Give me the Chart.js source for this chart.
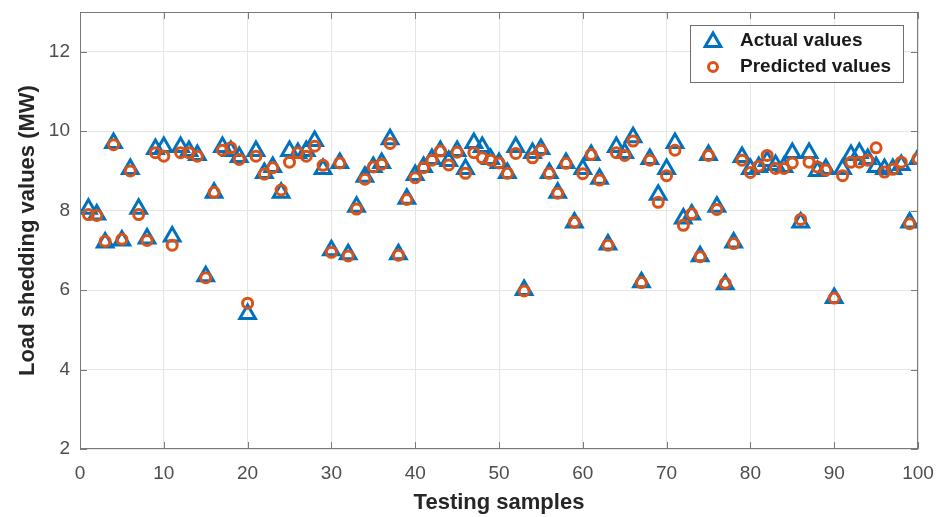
<!DOCTYPE html>
<html>
<head>
<meta charset="utf-8">
<script src="https://cdn.jsdelivr.net/npm/chart.js@4/dist/chart.umd.min.js"></script>
<style>
  body { margin: 0; background: #fff; }
  #wrap { width: 938px; height: 517px; }
</style>
</head>
<body>
<div id="wrap"><canvas id="chart" width="938" height="517"></canvas></div>
<script>
// values, sample 1..100
const actualValues = [
  8.05, 7.9, 7.2, 9.7, 7.25, 9.05, 8.05, 7.3, 9.55, 9.6,
  7.35, 9.6, 9.5, 9.4, 6.35, 8.45, 9.6, 9.5, 9.35, 5.4,
  9.5, 8.95, 9.1, 8.45, 9.5, 9.45, 9.5, 9.75, 9.05, 7.0,
  9.2, 6.9, 8.1, 8.85, 9.1, 9.2, 9.8, 6.9, 8.3, 8.9,
  9.1, 9.3, 9.5, 9.25, 9.5, 9.05, 9.7, 9.6, 9.3, 9.2,
  8.95, 9.6, 6.0, 9.45, 9.55, 8.95, 8.45, 9.2, 7.7, 9.05,
  9.4, 8.8, 7.15, 9.6, 9.45, 9.85, 6.2, 9.3, 8.4, 9.05,
  9.7, 7.8, 7.9, 6.85, 9.4, 8.1, 6.15, 7.2, 9.35, 9.05,
  9.1, 9.25, 9.15, 9.1, 9.45, 7.7, 9.45, 9.0, 9.05, 5.8,
  9.05, 9.4, 9.45, 9.3, 9.1, 9.05, 9.05, 9.15, 7.7, 9.3
]
const predictedValues = [
  7.9, 7.88, 7.23, 9.66, 7.28, 9.0, 7.9, 7.25, 9.46, 9.37,
  7.13, 9.46, 9.46, 9.37, 6.31, 8.46, 9.52, 9.58, 9.29, 5.67,
  9.37, 8.92, 9.08, 8.52, 9.22, 9.46, 9.37, 9.62, 9.14, 6.95,
  9.2, 6.86, 8.04, 8.79, 9.1, 9.17, 9.69, 6.88, 8.28, 8.83,
  9.08, 9.27, 9.5, 9.15, 9.47, 8.94, 9.46, 9.33, 9.27, 9.2,
  8.94, 9.44, 5.98, 9.33, 9.52, 8.94, 8.44, 9.19, 7.71, 8.93,
  9.41, 8.77, 7.13, 9.46, 9.39, 9.75, 6.19, 9.27, 8.21, 8.88,
  9.52, 7.63, 7.92, 6.84, 9.39, 8.03, 6.17, 7.17, 9.27, 8.96,
  9.12, 9.39, 9.06, 9.06, 9.2, 7.78, 9.22, 9.1, 9.02, 5.8,
  8.88, 9.22, 9.22, 9.27, 9.58, 8.97, 9.04, 9.22, 7.67, 9.31
]
const xTicks = [0, 10, 20, 30, 40, 50, 60, 70, 80, 90, 100]
const yTicks = [2, 4, 6, 8, 10, 12]
const seriesLabels = ["Actual values", "Predicted values"]

const blue = "#0072BD"
const orange = "#D95319"
const fontFamily = "'Liberation Sans', Arial, Helvetica, sans-serif"

const toPoints = (arr) => arr.map((v, i) => ({ x: i + 1, y: v }))

function marker(ctx, style, radius, lineWidth, color, x, y) {
  ctx.save()
  ctx.strokeStyle = color
  ctx.fillStyle = "rgba(0,0,0,0)"
  ctx.lineWidth = lineWidth
  if (Chart.helpers && Chart.helpers.drawPoint) {
    Chart.helpers.drawPoint(ctx, { pointStyle: style, radius: radius, rotation: 0, borderWidth: lineWidth }, x, y)
  } else {
    ctx.beginPath()
    if (style == "triangle") {
      ctx.moveTo(x, y - radius)
      ctx.lineTo(x + radius * 0.866, y + radius / 2)
      ctx.lineTo(x - radius * 0.866, y + radius / 2)
      ctx.closePath()
    } else ctx.arc(x, y, radius, 0, Math.PI * 2)
    ctx.stroke()
  }
  ctx.restore()
}

// box round the plot plus matlab style inward ticks
const axesFrame = {
  id: "axesFrame",
  afterDatasetsDraw(chart) {
    const ctx = chart.ctx, a = chart.chartArea
    const sx = chart.scales.x, sy = chart.scales.y
    ctx.save()
    ctx.strokeStyle = "#7a7a7a"
    ctx.lineWidth = 1
    ctx.strokeRect(a.left + 0.5, a.top + 0.5, a.right - a.left - 1, a.bottom - a.top - 1)
    ctx.beginPath()
    xTicks.forEach(v => {
      const px = Math.round(sx.getPixelForValue(v)) + 0.5
      ctx.moveTo(px, a.bottom); ctx.lineTo(px, a.bottom - 7)
      ctx.moveTo(px, a.top); ctx.lineTo(px, a.top + 7)
    })
    yTicks.forEach(v => {
      const py = Math.round(sy.getPixelForValue(v)) + 0.5
      ctx.moveTo(a.left, py); ctx.lineTo(a.left + 7, py)
      ctx.moveTo(a.right, py); ctx.lineTo(a.right - 7, py)
    })
    ctx.stroke()
    ctx.restore()
  }
}

// legend inside the axes, top right, with a white box
const legendBox = {
  id: "legendBox",
  afterDraw(chart) {
    const ctx = chart.ctx, a = chart.chartArea
    const x0 = a.right - 228, y0 = a.top + 13, w = 213, h = 57
    ctx.save()
    ctx.fillStyle = "#fff"
    ctx.fillRect(x0, y0, w, h)
    ctx.strokeStyle = "#6e6e6e"
    ctx.lineWidth = 1
    ctx.strokeRect(x0 + 0.5, y0 + 0.5, w, h)

    marker(ctx, "triangle", 9, 3, blue, x0 + 23, y0 + 17)
    marker(ctx, "circle", 4.5, 3, orange, x0 + 23, y0 + 42)

    ctx.fillStyle = "#1a1a1a"
    ctx.font = "bold 19px " + fontFamily
    ctx.textBaseline = "middle"
    ctx.textAlign = "left"
    ctx.fillText(seriesLabels[0], x0 + 50, y0 + 16)
    ctx.fillText(seriesLabels[1], x0 + 50, y0 + 42)
    ctx.restore()
  }
}

const ctx = document.getElementById("chart").getContext("2d")

new Chart(ctx, {
  type: "scatter",
  data: {
    datasets: [
      {
        label: seriesLabels[0],
        data: toPoints(actualValues),
        pointStyle: "triangle",
        pointRadius: 9,
        pointBorderWidth: 3,
        pointBorderColor: blue,
        pointBackgroundColor: "rgba(0,0,0,0)",
        order: 2
      },
      {
        label: seriesLabels[1],
        data: toPoints(predictedValues),
        pointStyle: "circle",
        pointRadius: 5,
        pointBorderWidth: 3,
        pointBorderColor: orange,
        pointBackgroundColor: "rgba(0,0,0,0)",
        order: 1
      }
    ]
  },
  options: {
    responsive: false,
    animation: false,
    layout: { padding: { top: 7, right: 20, left: 0, bottom: 0 } },
    plugins: {
      legend: { display: false },
      tooltip: { enabled: false }
    },
    scales: {
      x: {
        type: "linear",
        min: 0,
        max: 100,
        afterBuildTicks: (s) => { s.ticks = xTicks.map(v => ({ value: v })) },
        afterFit: (s) => { s.height = 68; s.paddingLeft = 0; s.paddingRight = 0 },
        grid: { color: "#e6e6e6", drawTicks: false },
        border: { display: false },
        ticks: {
          autoSkip: false,
          maxRotation: 0,
          padding: 13,
          color: "#4d4d4d",
          font: { family: fontFamily, size: 19 }
        },
        title: {
          display: true,
          text: "Testing samples",
          color: "#262626",
          font: { family: fontFamily, size: 22, weight: "bold" },
          padding: { top: 0, bottom: 1 }
        }
      },
      y: {
        type: "linear",
        min: 2,
        max: 13,
        afterBuildTicks: (s) => { s.ticks = yTicks.map(v => ({ value: v })) },
        afterFit: (s) => { s.width = 80; s.paddingTop = 0; s.paddingBottom = 0 },
        grid: { color: "#e6e6e6", drawTicks: false },
        border: { display: false },
        ticks: {
          padding: 10,
          color: "#4d4d4d",
          font: { family: fontFamily, size: 19 }
        },
        title: {
          display: true,
          text: "Load shedding values (MW)",
          color: "#262626",
          font: { family: fontFamily, size: 22, weight: "bold" },
          padding: { top: 15, bottom: 0 }
        }
      }
    }
  },
  plugins: [axesFrame, legendBox]
})
</script>
</body>
</html>
